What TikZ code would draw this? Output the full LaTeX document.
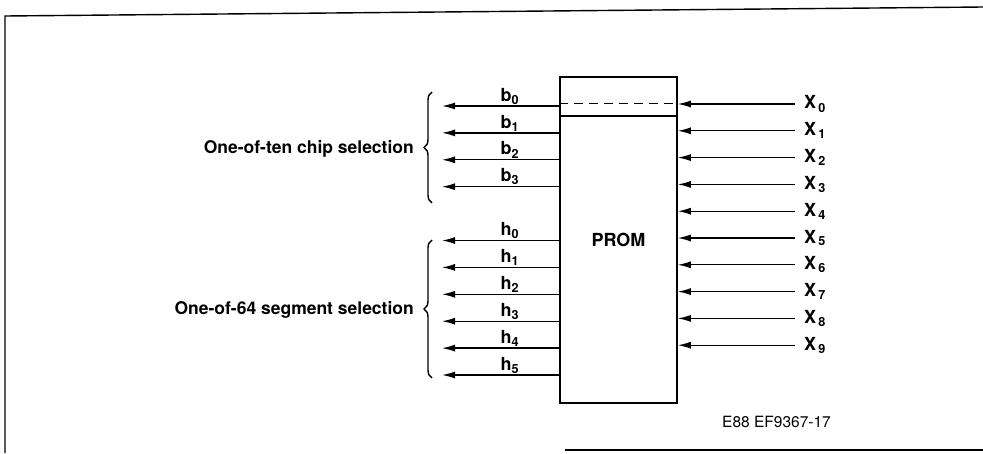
\documentclass[tikz,border=0pt]{standalone}
\usepackage{fontspec}
\setmainfont{TeX Gyre Heros}
\usetikzlibrary{arrows.meta,positioning,decorations.pathreplacing}

\begin{document}
\begin{tikzpicture}[
  x=1pt, y=-1pt, >={Latex[length=13pt,width=7pt]},
  frame/.style={line width=1.4pt},
  chip/.style={draw, line width=1.6pt, minimum width=117pt, minimum height=326pt, inner sep=0pt, font=\fontsize{18}{21}\selectfont\bfseries},
  arrow/.style={->, line width=1.3pt},
  pinlbl/.style={font=\fontsize{18}{21}\selectfont\bfseries, inner sep=1pt},
  groupbrace/.style={decorate, decoration={brace, amplitude=8pt}, line width=1.4pt},
  grouplbl/.style={font=\fontsize{17.5}{21}\selectfont\bfseries, anchor=east, inner sep=0pt}
]
\useasboundingbox (0,0) rectangle (983,453);

% page frame
\draw[frame] (983,7) -- (5,16) -- (5,453);
\draw[frame] (565,450) -- (983,450);

\node[chip] (prom) at (618.5,240) {PROM};
\draw[line width=1.1pt, dash pattern=on 9pt off 6pt] ([yshift=-27pt]prom.north west) -- ([yshift=-27pt]prom.north east);
\draw[line width=1.6pt] ([yshift=-40pt]prom.north west) -- ([yshift=-40pt]prom.north east);

% outputs
\foreach \i in {0,...,3} {
  \coordinate (b\i) at (442,106+26.9*\i);
  \draw[arrow] (prom.west |- b\i) -- (b\i) node[pinlbl, pos=0.42, above] {b\textsubscript{\i}};
}
\foreach \i in {0,...,5} {
  \coordinate (h\i) at (442,240.5+26.9*\i);
  \draw[arrow] (prom.west |- h\i) -- (h\i) node[pinlbl, pos=0.42, above] {h\textsubscript{\i}};
}

% inputs
\foreach \j in {0,...,9} {
  \coordinate (in\j) at (795,104+26.8*\j);
  \node[pinlbl, anchor=west] (x\j) at ([xshift=8pt]in\j) {X\textsubscript{\,\j}};
  \draw[arrow] (in\j) -- (prom.east |- in\j);
}

% groups
\coordinate (bt) at (432,92);
\coordinate (bb) at (432,203);
\coordinate (ht) at (432,240);
\coordinate (hb) at (432,378);
\draw[groupbrace] (bb) -- (bt);
\draw[groupbrace] (hb) -- (ht);
\node[grouplbl] (chipsel) at (414,149) {One-of-ten chip selection};
\node[grouplbl] (segsel) at (414,310) {One-of-64 segment selection};

\node[font=\fontsize{15.5}{18}\selectfont, anchor=west, inner sep=0pt] (figid) at (722,422) {E88 EF9367-17};

\end{tikzpicture}
\end{document}
